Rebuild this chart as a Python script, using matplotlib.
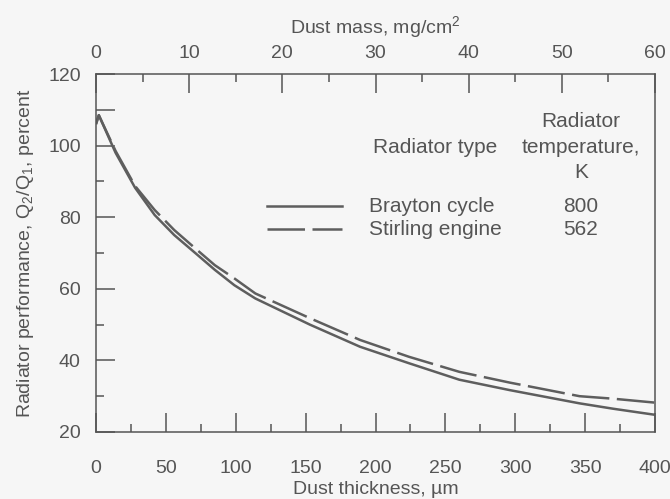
import matplotlib.pyplot as plt

plt.rcParams['font.family'] = ['Liberation Sans', 'DejaVu Sans']
plt.rcParams['mathtext.default'] = 'regular'

# Dust thickness (um) and radiator performance (percent)
brayton_x = [0, 2, 14, 28, 42, 56, 71, 85, 99, 114, 153, 189, 224, 260, 296, 346, 370, 400]
brayton_y = [106, 108.5, 98, 88.2, 80.6, 75, 70, 65.3, 61, 57.3, 50, 43.8, 39.2, 34.6, 31.7, 28, 26.5, 24.8]
stirling_x = [0, 2, 14, 28, 42, 56, 71, 85, 99, 114, 153, 189, 224, 260, 296, 346, 370, 400]
stirling_y = [106, 108.5, 98.5, 88.7, 82, 76.4, 71.3, 66.6, 62.9, 58.7, 51.8, 45.7, 41, 36.8, 33.8, 30, 29.3, 28.2]

types = ["Brayton cycle", "Stirling engine"]
temps = ["800", "562"]

gray = "#555555"
bg = "#f6f6f6"
fs = 15

fig = plt.figure(figsize=(6.7, 4.99), dpi=100, facecolor=bg)
ax = fig.add_axes([0.1433, 0.1343, 0.8343, 0.7174], facecolor=bg)

ax.plot(brayton_x, brayton_y, color="#5e5e5e", lw=1.8, solid_capstyle="butt")
ax.plot(stirling_x, stirling_y, color="#5e5e5e", lw=1.8, linestyle=(0, (15, 3)))

ax.set_xlim(0, 400)
ax.set_ylim(20, 120)
ax.set_xticks(range(0, 401, 50))
ax.set_xticks(range(25, 400, 50), minor=True)
ax.set_yticks([20, 40, 60, 80, 100, 110, 120])
ax.set_yticklabels(["20", "40", "60", "80", "100", "", "120"])
ax.set_yticks([30, 50, 70, 90], minor=True)

ax.tick_params(which="both", direction="in", colors=gray, labelcolor=gray, labelsize=14, width=1.1)
ax.tick_params(which="major", length=14)
ax.tick_params(which="minor", length=5.5)
ax.tick_params(axis="x", pad=20)
ax.tick_params(axis="y", pad=11)
for s in ax.spines.values():
    s.set_color(gray)
    s.set_linewidth(1.1)

ax.set_xlabel("Dust thickness, \u00b5m", color=gray, fontsize=14, labelpad=3)
ax.set_ylabel("Radiator performance, Q$_2$/Q$_1$, percent", color=gray, fontsize=14, labelpad=9)

ax2 = ax.twiny()
ax2.set_xlim(0, 60)
ax2.set_xticks(range(0, 61, 10))
ax2.set_xticks(range(5, 60, 10), minor=True)
ax2.tick_params(which="both", direction="in", colors=gray, labelcolor=gray, labelsize=14, width=1.1, pad=9)
ax2.tick_params(which="major", length=14)
ax2.tick_params(which="minor", length=5.5)
ax2.set_xlabel("Dust mass, mg/cm$^2$", color=gray, fontsize=14, labelpad=8)
for s in ax2.spines.values():
    s.set_visible(False)

# legend drawn as a small table
ax.text(198, 99.6, "Radiator type", color=gray, fontsize=fs, ha="left", va="center")
for yy, line in zip([106.6, 99.6, 92.6], ["Radiator", "temperature,", "K"]):
    ax.text(347, yy, line, color=gray, fontsize=fs, ha="center", va="center")
legend_y = [83.1, 76.7]
styles = ["-", (0, (15, 3))]
for name, temp, yy, ls in zip(types, temps, legend_y, styles):
    ax.plot([122, 176], [yy, yy], color="#5e5e5e", lw=1.8, linestyle=ls)
    ax.text(195, yy, name, color=gray, fontsize=fs, ha="left", va="center")
    ax.text(347, yy, temp, color=gray, fontsize=fs, ha="center", va="center")

fig.savefig("out.png", dpi=100, facecolor=bg)
